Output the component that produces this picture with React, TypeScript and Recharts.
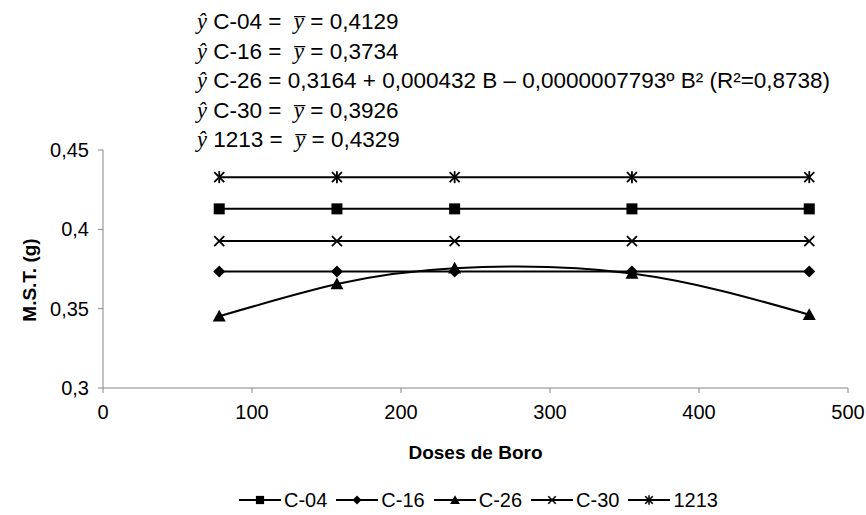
import React from "react";
import { LineChart, Line, XAxis, YAxis, Label } from "recharts";

document.body.style.margin = "0";

// doses de boro (x) and M.S.T. (g) per cultivar
const doses = [78, 157, 236, 355, 474];
const c04 = [0.4129, 0.4129, 0.4129, 0.4129, 0.4129];
const c16 = [0.3734, 0.3734, 0.3734, 0.3734, 0.3734];
const c26 = [0.3452, 0.3655, 0.3755, 0.3722, 0.3462];
const c30 = [0.3926, 0.3926, 0.3926, 0.3926, 0.3926];
const s1213 = [0.4329, 0.4329, 0.4329, 0.4329, 0.4329];

const xTicks = [0, 100, 200, 300, 400, 500];
const yTicks = [0.3, 0.35, 0.4, 0.45];

const equations = [
  { name: "C-04", rhs: "0,4129", mean: true },
  { name: "C-16", rhs: "0,3734", mean: true },
  { name: "C-26", rhs: "0,3164 + 0,000432 B – 0,0000007793º B² (R²=0,8738)", mean: false },
  { name: "C-30", rhs: "0,3926", mean: true },
  { name: "1213", rhs: "0,4329", mean: true },
];

const data = doses.map((d, i) => ({
  dose: d,
  c04: c04[i],
  c16: c16[i],
  c26: c26[i],
  c30: c30[i],
  s1213: s1213[i],
}));

const FONT = "'Liberation Sans', Arial, sans-serif";
const SERIF = "'Liberation Serif', 'Times New Roman', serif";
const INK = "#000";
const AXIS = "#868686";

type Shape = "square" | "diamond" | "triangle" | "cross" | "star";

function Marker({ shape, cx, cy, s = 1 }: { shape: Shape; cx: number; cy: number; s?: number }) {
  if (shape === "square") {
    const h = 5.5 * s;
    return <rect x={cx - h} y={cy - h} width={h * 2} height={h * 2} fill={INK} />;
  }
  if (shape === "diamond") {
    const h = 6 * s;
    return <polygon points={`${cx},${cy - h} ${cx + h},${cy} ${cx},${cy + h} ${cx - h},${cy}`} fill={INK} />;
  }
  if (shape === "triangle") {
    const h = 6.5 * s;
    return <polygon points={`${cx},${cy - h} ${cx + h},${cy + h * 0.8} ${cx - h},${cy + h * 0.8}`} fill={INK} />;
  }
  const h = 5 * s;
  return (
    <g stroke={INK} strokeWidth={1.8 * Math.min(1, s + 0.1)}>
      <line x1={cx - h} y1={cy - h} x2={cx + h} y2={cy + h} />
      <line x1={cx - h} y1={cy + h} x2={cx + h} y2={cy - h} />
      {shape === "star" && <line x1={cx} y1={cy - h - 1} x2={cx} y2={cy + h + 1} />}
    </g>
  );
}

const dotFor = (shape: Shape) => (p: any) => (
  <Marker key={`${shape}-${p.index}`} shape={shape} cx={p.cx} cy={p.cy} />
);

const series: { key: string; label: string; shape: Shape; curve: "linear" | "natural" }[] = [
  { key: "c04", label: "C-04", shape: "square", curve: "linear" },
  { key: "c16", label: "C-16", shape: "diamond", curve: "linear" },
  { key: "c26", label: "C-26", shape: "triangle", curve: "natural" },
  { key: "c30", label: "C-30", shape: "cross", curve: "linear" },
  { key: "s1213", label: "1213", shape: "star", curve: "linear" },
];

function LegendRow() {
  return (
    <div
      style={{
        position: "absolute",
        top: 488,
        left: 239,
        display: "flex",
        alignItems: "center",
        fontFamily: FONT,
        fontSize: 20,
        color: INK,
        whiteSpace: "nowrap",
      }}
    >
      {series.map((s) => (
        <span key={s.key} style={{ display: "inline-flex", alignItems: "center", marginRight: 9 }}>
          <svg width={42} height={24} style={{ marginRight: 3 }}>
            <line x1={0} y1={12} x2={42} y2={12} stroke={INK} strokeWidth={2} />
            <Marker shape={s.shape} cx={21} cy={12} s={0.75} />
          </svg>
          <span>{s.label}</span>
        </span>
      ))}
    </div>
  );
}

const YTitle = () => (
  <text
    transform="translate(36, 280) rotate(-90)"
    textAnchor="middle"
    fill={INK}
    fontSize={19}
    fontWeight="bold"
    fontFamily={FONT}
  >
    M.S.T. (g)
  </text>
);

export default function App() {
  return (
    <div style={{ position: "relative", width: 866, height: 515, background: "#fff" }}>
      <LineChart
        width={866}
        height={515}
        data={data}
        margin={{ top: 150, right: 18, left: 43, bottom: 97 }}
      >
        <XAxis
          dataKey="dose"
          type="number"
          domain={[0, 500]}
          ticks={xTicks}
          stroke={AXIS}
          tickSize={5}
          tickMargin={12}
          height={30}
          tick={{ fill: INK, fontSize: 20, fontFamily: FONT }}
        >
          <Label
            value="Doses de Boro"
            position="insideBottom"
            offset={-41}
            style={{ fill: INK, fontSize: 19, fontWeight: "bold", fontFamily: FONT }}
          />
        </XAxis>
        <YAxis
          type="number"
          domain={[0.3, 0.45]}
          ticks={yTicks}
          width={60}
          stroke={AXIS}
          tickSize={5}
          tickMargin={9}
          tickFormatter={(v: number) => String(v).replace(".", ",")}
          tick={{ fill: INK, fontSize: 20, fontFamily: FONT }}
        >
          <Label content={YTitle} />
        </YAxis>
        {series.map((s) => (
          <Line
            key={s.key}
            dataKey={s.key}
            type={s.curve}
            stroke={INK}
            strokeWidth={2}
            dot={dotFor(s.shape)}
            activeDot={false}
            isAnimationActive={false}
          />
        ))}
      </LineChart>
      <div
        style={{
          position: "absolute",
          left: 197,
          top: 7,
          fontFamily: FONT,
          fontSize: 22.5,
          color: INK,
          lineHeight: "29.5px",
          whiteSpace: "nowrap",
        }}
      >
        {equations.map((e) => (
          <div key={e.name}>
            <span style={{ fontFamily: SERIF, fontStyle: "italic" }}>ŷ</span> {e.name} =
            {e.mean ? (
              <>
                {"\u00a0\u00a0"}
                <span style={{ fontFamily: SERIF, fontStyle: "italic" }}>y̅</span> ={" "}
              </>
            ) : (
              " "
            )}
            {e.rhs}
          </div>
        ))}
      </div>
      <LegendRow />
    </div>
  );
}
